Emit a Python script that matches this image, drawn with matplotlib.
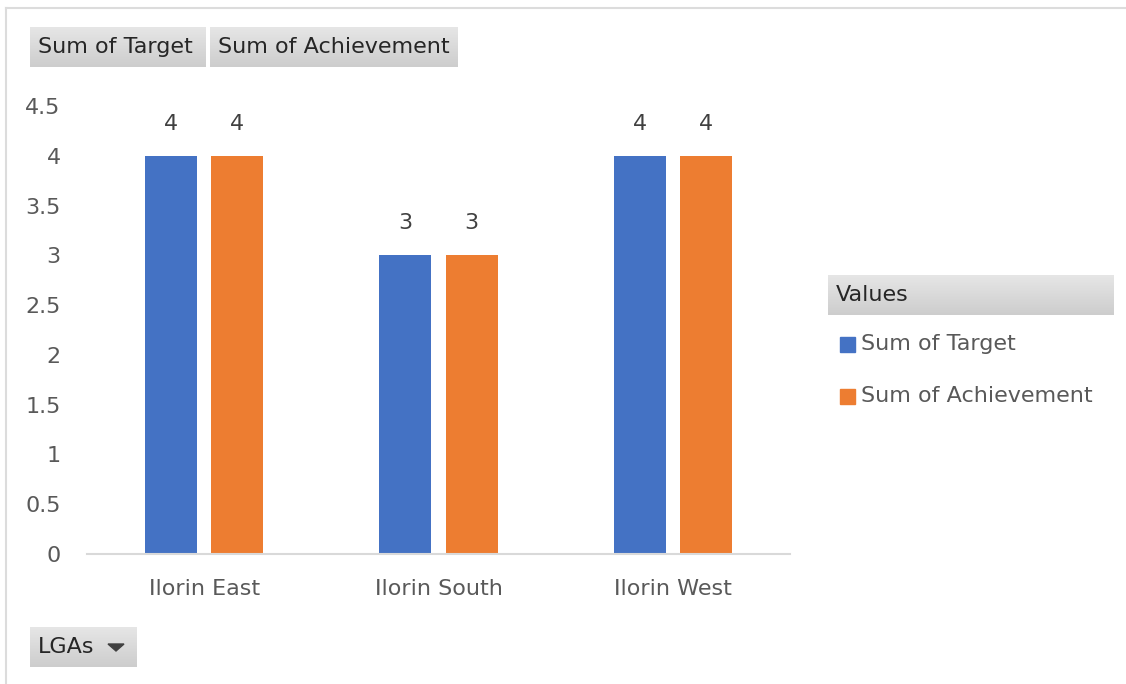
import numpy as np
import matplotlib
matplotlib.use("Agg")
import matplotlib.pyplot as plt
from matplotlib.colors import LinearSegmentedColormap
from matplotlib.patches import Polygon

# pivot chart values
lgas = ["Ilorin East", "Ilorin South", "Ilorin West"]
sum_of_target = [4, 3, 4]
sum_of_achievement = [4, 3, 4]
y_ticks = [0, 0.5, 1, 1.5, 2, 2.5, 3, 3.5, 4, 4.5]

BLUE = "#4472C4"
ORANGE = "#ED7D31"
TEXT = "#595959"
FONT = ["DejaVu Sans"]
FS = 16
W, H = 1126, 684

plt.rcParams["font.family"] = FONT

fig = plt.figure(figsize=(W / 100, H / 100), dpi=100)

# overlay in pixel coordinates for the pivot-chart chrome
chrome = fig.add_axes([0, 0, 1, 1])
chrome.set_xlim(0, W)
chrome.set_ylim(H, 0)
chrome.axis("off")

# outer frame (top and left only are visible)
chrome.plot([6, W + 5], [8, 8], color="#dcdcdc", lw=1.5)
chrome.plot([6, 6], [8, H + 5], color="#dcdcdc", lw=1.5)

button_cmap = LinearSegmentedColormap.from_list("btn", ["#e6e6e6", "#cdcdcd"])
grad = np.linspace(0, 1, 64).reshape(-1, 1)


def field_button(x0, y0, x1, y1, label, arrow=False):
    chrome.imshow(grad, extent=(x0, x1, y1, y0), cmap=button_cmap,
                  vmin=0, vmax=1, aspect="auto", zorder=1)
    chrome.text(x0 + 8, (y0 + y1) / 2, label, fontsize=FS, color="#262626",
                ha="left", va="center", zorder=2)
    if arrow:
        cx, cy = x1 - 21, (y0 + y1) / 2 + 0.5
        chrome.add_patch(Polygon([[cx - 8, cy - 3.5], [cx + 8, cy - 3.5], [cx, cy + 3.5]],
                                 closed=True, color="#404040", zorder=2))


field_button(30, 27, 206, 67, "Sum of Target")
field_button(210, 27, 458, 67, "Sum of Achievement")
field_button(30, 627, 137, 667, "LGAs", arrow=True)
field_button(828, 275, 1114, 315, "Values")

# legend entries
for yc, color, label in [(344, BLUE, "Sum of Target"), (396, ORANGE, "Sum of Achievement")]:
    chrome.add_patch(plt.Rectangle((840, yc - 7), 15, 15, color=color, zorder=2))
    chrome.text(861, yc, label, fontsize=FS, color=TEXT, ha="left", va="center")
chrome.set_xlim(0, W)
chrome.set_ylim(H, 0)

# plot area
ax = fig.add_axes([87 / W, (H - 554) / H, 703 / W, (554 - 106) / H])
ax.patch.set_alpha(0)
x = np.arange(len(lgas))
offset, width = 0.141, 0.222
b1 = ax.bar(x - offset, sum_of_target, width=width, color=BLUE, zorder=2)
b2 = ax.bar(x + offset, sum_of_achievement, width=width, color=ORANGE, zorder=2)
for bars in (b1, b2):
    ax.bar_label(bars, labels=[f"{v:g}" for v in bars.datavalues],
                 padding=16, fontsize=FS, color="#404040")

ax.set_xlim(-0.5, len(lgas) - 0.5)
ax.set_ylim(0, 4.5)
ax.set_yticks(y_ticks)
ax.set_yticklabels([f"{v:g}" for v in y_ticks])
ax.set_xticks(x)
ax.set_xticklabels(lgas)
ax.tick_params(axis="y", length=0, pad=19, labelsize=FS, labelcolor=TEXT)
ax.tick_params(axis="x", length=0, pad=18, labelsize=FS, labelcolor=TEXT)
for side in ("top", "right", "left"):
    ax.spines[side].set_visible(False)
ax.spines["bottom"].set_color("#d9d9d9")
ax.spines["bottom"].set_linewidth(1.5)

fig.savefig("out.png", dpi=100)
